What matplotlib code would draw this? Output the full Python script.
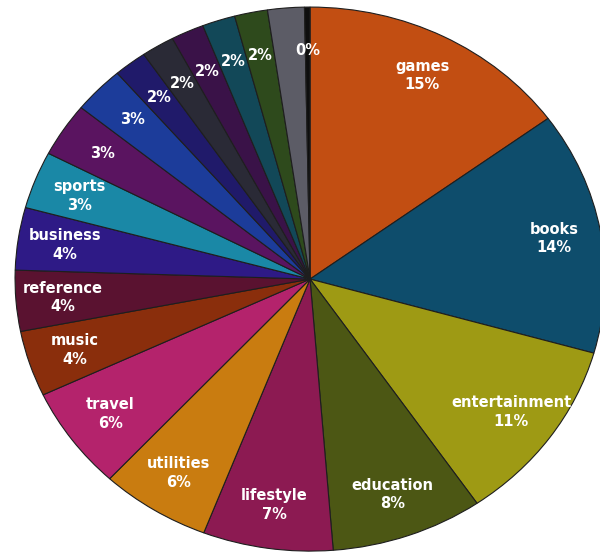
import matplotlib
matplotlib.use("Agg")
import matplotlib.pyplot as plt

# Data (clockwise from 12 o'clock), percentages
categories = ["games", "books", "entertainment", "education", "lifestyle",
              "utilities", "travel", "music", "reference", "business",
              "sports", "", "", "", "", "", "", "", "", ""]
values = [14.9, 14.4, 11.0, 8.3, 7.1, 6.0, 6.1, 3.9, 3.6, 3.7,
          3.4, 3.2, 2.8, 1.8, 1.8, 1.8, 1.8, 1.8, 2.0, 0.3]
show_label = [True] * 18 + [False, True]

colors = ["#C24E12", "#0E4D6C", "#9E9A14", "#4C5714", "#8C1A52",
          "#C97C10", "#B4236C", "#8A2E0C", "#5A1230", "#2E1A86",
          "#1A88A6", "#5A1460", "#1C3C9A", "#201A6A", "#2A2A36",
          "#3A1248", "#124858", "#2E4A1C", "#5C5C66", "#0E0E0E"]

labels = []
for name, v, s in zip(categories, values, show_label):
    if not s:
        labels.append("")
    elif name:
        labels.append(f"{name}\n{round(v)}%")
    else:
        labels.append(f"{round(v)}%")

fig = plt.figure(figsize=(6.0, 5.56), dpi=100)
ax = fig.add_axes([0, 0, 1, 1])
wedges, texts = ax.pie(values, colors=colors, startangle=90, counterclock=False,
                       labels=labels, labeldistance=0.84,
                       wedgeprops=dict(edgecolor="#1e1e1e", linewidth=0.8))
for t in texts:
    t.set_ha("center")
    t.set_va("center")
    t.set_color("white")
    t.set_fontweight("bold")
    t.set_fontsize(10.5)
    t.set_linespacing(1.3)
    t.set_family("DejaVu Sans")

ax.set_aspect("auto")
ax.set_xlim(-1.051, 0.983)
ax.set_ylim(-1.018, 1.026)
ax.axis("off")
fig.savefig("out.png", dpi=100)
